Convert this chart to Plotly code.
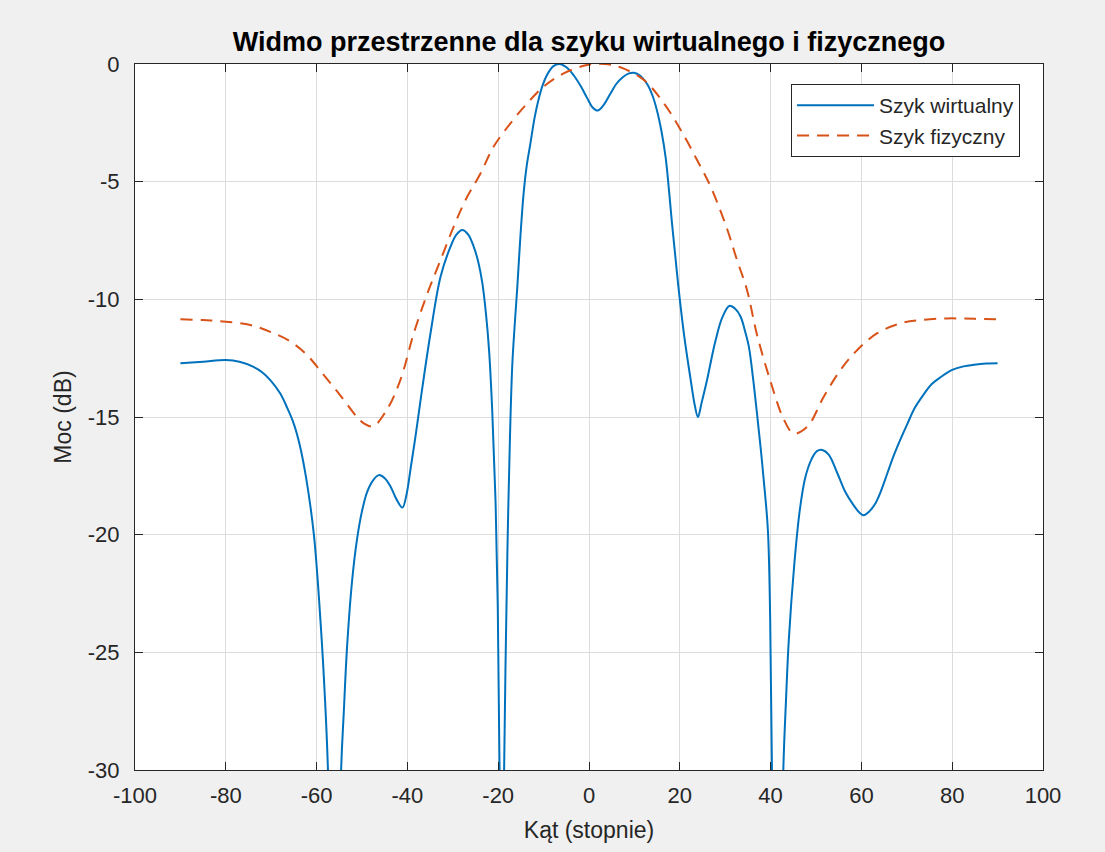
import plotly.graph_objects as go

# Szyk wirtualny (blue, solid)
theta_v = [-90, -85, -80, -77, -74, -72, -70.2, -68, -66.5, -65.0, -63.7, -62.3, -60.6, -59.1,
           -58.2, -57.5, -56.0, -54.6, -54.0, -53.3, -52.2, -51.1, -50.0, -48.9, -47.6, -46.3,
           -45.0, -43.7, -42.4, -41.1, -40.2, -39.3, -38.2, -37.1, -34.9, -32.7, -30.5, -29.2,
           -27.9, -26.6, -25.4, -24.4, -23.5, -22.7, -22.0, -21.3, -20.6, -20.1, -19.7, -19.2,
           -18.7, -18.3, -17.9, -17.4, -16.9, -16.3, -15.8, -15.1, -14.4, -13.7, -12.9, -12.0,
           -11.1, -10.2, -9.2, -7.9, -6.5, -4.9, -3.3, -1.8, -0.4, 0.8, 1.9, 3.2, 4.6, 6.0, 7.5,
           8.8, 9.9, 11.3, 12.8, 14.0, 15.0, 16.0, 16.9, 18.3, 19.6, 21.0, 22.3, 23.3, 24.0,
           24.8, 26.0, 27.0, 27.9, 29.3, 30.9, 32.2, 33.4, 34.3, 35.2, 36.1, 37.0, 37.8, 38.5,
           39.4, 39.9, 40.3, 41.5, 42.8, 43.4, 44.0, 45.2, 46.4, 47.6, 49.0, 50.2, 51.4, 52.8,
           54.7, 56.5, 58.0, 59.5, 60.5, 61.8, 63.0, 64.2, 65.7, 67.2, 68.6, 70.1, 71.8, 73.5,
           75.5, 77.5, 80.0, 82.5, 84.8, 87.5, 90]
power_v = [-12.72, -12.65, -12.58, -12.65, -12.86, -13.1, -13.43, -14.0, -14.6, -15.3, -16.2,
           -17.6, -20.0, -23.8, -26.8, -30.0, -45.0, -30.0, -27.5, -24.8, -22.0, -20.2, -19.0,
           -18.2, -17.7, -17.47, -17.6, -17.96, -18.5, -18.85, -18.3, -17.2, -15.8, -14.28,
           -11.43, -9.04, -7.76, -7.25, -7.05, -7.25, -7.76, -8.4, -9.3, -10.6, -12.2, -14.8,
           -18.5, -23.0, -30.0, -45.0, -30.0, -24.5, -20.0, -15.8, -12.8, -10.9, -9.5, -7.3,
           -5.5, -4.3, -3.37, -2.3, -1.5, -0.9, -0.45, -0.1, 0.0, -0.15, -0.5, -0.95, -1.45,
           -1.85, -1.98, -1.75, -1.3, -0.85, -0.55, -0.4, -0.37, -0.5, -0.85, -1.35, -2.0, -2.9,
           -4.0, -6.8, -9.3, -11.6, -13.3, -14.5, -15.0, -14.4, -13.43, -12.5, -11.73, -10.8,
           -10.28, -10.4, -10.74, -11.3, -12.0, -13.3, -14.85, -16.3, -17.7, -19.8, -23.5,
           -30.0, -45.0, -30.0, -27.0, -24.5, -21.3, -19.0, -17.6, -16.8, -16.45, -16.4, -16.6,
           -17.39, -18.2, -18.67, -19.05, -19.17, -19.0, -18.7, -18.2, -17.4, -16.6, -15.95,
           -15.3, -14.6, -14.1, -13.6, -13.3, -13.0, -12.85, -12.78, -12.73, -12.72]

# Szyk fizyczny (orange, dashed)
theta_f = [-90, -85, -80, -74.6, -70.2, -65.7, -62.1, -58.4, -54.7, -51.1, -49.6, -47.6, -44.4,
           -41.5, -38.6, -35.6, -32.7, -29.8, -27.2, -23.9, -21.0, -17.3, -13.6, -10.0, -5.6,
           -0.4, 3.5, 6.9, 12.1, 16.5, 20.2, 23.8, 26.8, 30.4, 32.6, 34.8, 37.0, 40.0, 42.9,
           45.1, 48.1, 51.7, 55.4, 59.1, 63.5, 68.6, 73.0, 78.9, 85, 90]
power_f = [-10.85, -10.88, -10.95, -11.09, -11.38, -11.8, -12.37, -13.22, -14.1, -15.0, -15.27,
           -15.4, -14.65, -13.4, -11.44, -9.75, -8.33, -6.91, -5.78, -4.65, -3.51, -2.52, -1.67,
           -0.96, -0.4, -0.04, 0.0, -0.14, -0.68, -1.67, -2.8, -4.08, -5.21, -7.0, -8.33, -9.6,
           -11.5, -13.5, -15.1, -15.7, -15.41, -14.14, -13.0, -12.15, -11.44, -11.02, -10.88,
           -10.81, -10.83, -10.85]

x_ticks = [-100, -80, -60, -40, -20, 0, 20, 40, 60, 80, 100]
x_tick_text = ["-100", "-80", "-60", "-40", "-20", "0", "20", "40", "60", "80", "100"]
y_ticks = [-30, -25, -20, -15, -10, -5, 0]
y_tick_text = ["-30", "-25", "-20", "-15", "-10", "-5", "0"]

FONT = "Liberation Sans, Arial, Helvetica, sans-serif"
AX = "#262626"

fig = go.Figure()
fig.add_trace(go.Scatter(x=theta_v, y=power_v, mode="lines", name="Szyk wirtualny",
                         line=dict(color="#0072BD", width=2, shape="spline", smoothing=1.0,
                                   simplify=False)))
fig.add_trace(go.Scatter(x=theta_f, y=power_f, mode="lines", name="Szyk fizyczny",
                         line=dict(color="#D95319", width=2, dash="12px,8px",
                                   shape="spline", smoothing=1.0, simplify=False)))

axis_common = dict(
    showline=True, linecolor=AX, linewidth=1, mirror="ticks",
    ticks="inside", ticklen=8, tickcolor=AX, tickwidth=1,
    showgrid=True, gridcolor="#dcdcdc", gridwidth=1, zeroline=False,
    tickfont=dict(family=FONT, size=22, color=AX),
)

fig.update_layout(
    width=1105, height=852,
    paper_bgcolor="#f0f0f0", plot_bgcolor="white",
    margin=dict(l=135, r=62, t=64, b=82),
    title=dict(text="Widmo przestrzenne dla szyku wirtualnego i fizycznego",
               x=0.5, xanchor="center", xref="paper", y=1 - 42 / 852, yanchor="middle",
               font=dict(family=FONT, size=27, color="black", weight="bold")),
    xaxis=dict(range=[-100, 100], tickvals=x_ticks, ticktext=x_tick_text,
               ticklabelstandoff=6,
               title=dict(text="Kąt (stopnie)", font=dict(family=FONT, size=23, color=AX),
                          standoff=14),
               **axis_common),
    yaxis=dict(range=[-30, 0], tickvals=y_ticks, ticktext=y_tick_text,
               ticklabelstandoff=10,
               title=dict(text="Moc (dB)", font=dict(family=FONT, size=23, color=AX),
                          standoff=9),
               **axis_common),
    legend=dict(x=0.9747, y=0.9717, xanchor="right", yanchor="top",
                bgcolor="white", bordercolor=AX, borderwidth=1,
                font=dict(family=FONT, size=21, color=AX),
                itemwidth=77, tracegroupgap=0),
    showlegend=True,
)

fig.write_html("out.html")
